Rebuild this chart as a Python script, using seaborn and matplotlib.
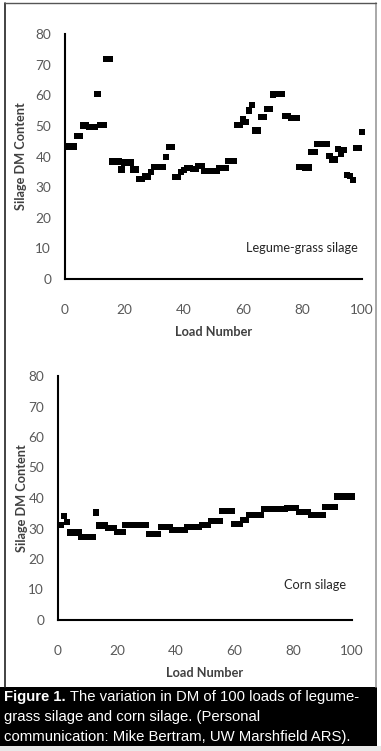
import numpy as np
import pandas as pd
import matplotlib
matplotlib.use('Agg')
import matplotlib.pyplot as plt
import seaborn as sns
from matplotlib.patches import Rectangle
from matplotlib.lines import Line2D

sns.set_style('white')
plt.rcParams['font.family'] = ['Lato', 'DejaVu Sans']

# load number 1..100
loads = list(range(1, 101))

# legume-grass silage DM
legume_dm = [43.3, 43.3, 43.3, 46.6, 46.6, 50.1, 50.1, 49.6, 49.6, 49.6,
             60.5, 50.2, 50.2, 71.8, 71.8, 38.4, 38.4, 38.4, 35.8, 38.0,
             38.0, 38.0, 35.8, 35.8, 32.6, 32.6, 33.5, 33.5, 35.0, 36.5,
             36.5, 36.5, 36.6, 39.8, 43.1, 43.1, 33.4, 33.4, 35.0, 35.6,
             36.3, 36.3, 36.0, 35.9, 36.9, 36.9, 35.3, 35.3, 35.3, 35.3,
             35.3, 36.3, 36.3, 36.3, 38.6, 38.6, 38.6, 50.3, 50.3, 52.2,
             51.3, 55.0, 56.9, 48.5, 48.5, 53.0, 53.0, 55.6, 55.6, 60.3,
             60.5, 60.5, 60.5, 53.3, 53.3, 52.6, 52.6, 52.6, 36.6, 36.6,
             36.4, 36.4, 41.5, 41.5, 44.1, 44.1, 44.1, 44.1, 40.2, 38.8,
             39.0, 42.5, 40.8, 42.1, 34.0, 33.6, 32.4, 42.8, 42.8, 48.0]

# corn silage DM
corn_dm = [31.1, 34.0, 32.2, 28.7, 28.7, 28.7, 28.7, 27.2, 27.2, 27.2,
           27.2, 27.2, 35.3, 31.0, 31.0, 31.0, 30.2, 30.2, 30.2, 28.8,
           28.8, 28.8, 31.1, 31.1, 31.1, 31.1, 31.1, 31.1, 31.1, 31.1,
           28.2, 28.2, 28.2, 28.2, 30.4, 30.4, 30.4, 30.4, 29.5, 29.5,
           29.5, 29.5, 29.5, 30.4, 30.4, 30.4, 30.4, 30.4, 31.2, 31.2,
           31.2, 32.5, 32.5, 32.5, 32.5, 35.8, 35.8, 35.8, 35.8, 31.5,
           31.5, 31.5, 32.8, 32.8, 34.4, 34.4, 34.4, 34.4, 34.4, 36.4,
           36.4, 36.4, 36.4, 36.4, 36.4, 36.4, 36.4, 36.7, 36.7, 36.7,
           36.7, 35.4, 35.4, 35.4, 35.4, 34.4, 34.4, 34.4, 34.4, 34.4,
           37.0, 37.0, 37.0, 37.0, 40.5, 40.5, 40.5, 40.5, 40.5, 40.5]

xticks = [0, 20, 40, 60, 80, 100]
yticks = [0, 10, 20, 30, 40, 50, 60, 70, 80]

legume = pd.DataFrame({'load': loads, 'dm': legume_dm})
corn = pd.DataFrame({'load': loads, 'dm': corn_dm})

W, H = 381, 751
fig = plt.figure(figsize=(W / 100, H / 100), dpi=100)

# axes boxes measured in pixels: left, bottom(y of x-axis), right, top
ax1 = fig.add_axes([65 / W, 1 - 279 / H, (362 - 65) / W, (279 - 34) / H])
ax2 = fig.add_axes([58 / W, 1 - 620 / H, (352 - 58) / W, (620 - 376) / H])

tick_col = '#595959'
for ax, df, name, pos, ylab_x in [(ax1, legume, 'Legume-grass silage', (61, 10), -0.128),
                                  (ax2, corn, 'Corn silage', (77, 11.5), -0.102)]:
    sns.scatterplot(data=df, x='load', y='dm', ax=ax, marker='s', s=21,
                    color='black', edgecolor='none', clip_on=False)
    ax.set_xlim(0, 100)
    ax.set_ylim(0, 80)
    ax.set_xticks(xticks)
    ax.set_yticks(yticks)
    for sp in ['top', 'right']:
        ax.spines[sp].set_visible(False)
    for sp in ['left', 'bottom']:
        ax.spines[sp].set_color('black')
        ax.spines[sp].set_linewidth(1.5)
    ax.tick_params(axis='y', direction='out', length=4, width=1.2,
                   color='black', labelcolor=tick_col, labelsize=9.8, pad=6)
    ax.tick_params(axis='x', direction='out', length=4, width=1.2,
                   color='black', labelcolor=tick_col, labelsize=9.8, pad=14)
    ax.set_xlabel('Load Number', fontsize=9.2, fontweight='bold',
                  color='#404040', labelpad=7)
    ax.set_ylabel('Silage DM Content', fontsize=9.2, fontweight='bold',
                  color='#404040')
    ax.yaxis.set_label_coords(ylab_x, 0.5)
    ax.text(pos[0], pos[1], name, fontsize=9.2, color='#262626',
            ha='left', va='center')
    ax.set_facecolor('none')

# outer frame
fig.add_artist(Line2D([5 / W, 5 / W], [1 - 687 / H, 1 - 3 / H],
                      color='#222222', lw=1.2))
fig.add_artist(Line2D([376 / W, 376 / W], [1 - 687 / H, 1 - 3 / H],
                      color='#999999', lw=1.2))
fig.add_artist(Line2D([5 / W, 376 / W], [1 - 3 / H, 1 - 3 / H],
                      color='#555555', lw=1.0))

# caption box
fig.add_artist(Rectangle((0, 1 - 746 / H), 377 / W, (746 - 687) / H,
                         transform=fig.transFigure, facecolor='black',
                         edgecolor='none'))
fig.add_artist(Rectangle((0, 0), 1, 1 - 746 / H, transform=fig.transFigure,
                         facecolor='#e8e8e8', edgecolor='none'))

cap_font = ['Liberation Sans', 'DejaVu Sans']
cap_size = 10.7
t_bold = fig.text(4 / W, 1 - 697 / H, 'Figure 1.', color='white',
                  fontsize=cap_size, fontweight='bold', family=cap_font,
                  va='center', ha='left')
fig.canvas.draw()
bb = t_bold.get_window_extent(renderer=fig.canvas.get_renderer())
x_after = bb.x1 / W
fig.text(x_after, 1 - 697 / H, ' The variation in DM of 100 loads of legume-',
         color='white', fontsize=cap_size, family=cap_font,
         va='center', ha='left')
fig.text(4 / W, 1 - 717 / H, 'grass silage and corn silage. (Personal',
         color='white', fontsize=cap_size, family=cap_font,
         va='center', ha='left')
fig.text(4 / W, 1 - 737 / H,
         'communication: Mike Bertram, UW Marshfield ARS).',
         color='white', fontsize=cap_size, family=cap_font,
         va='center', ha='left')

fig.savefig('out.png', dpi=100)
